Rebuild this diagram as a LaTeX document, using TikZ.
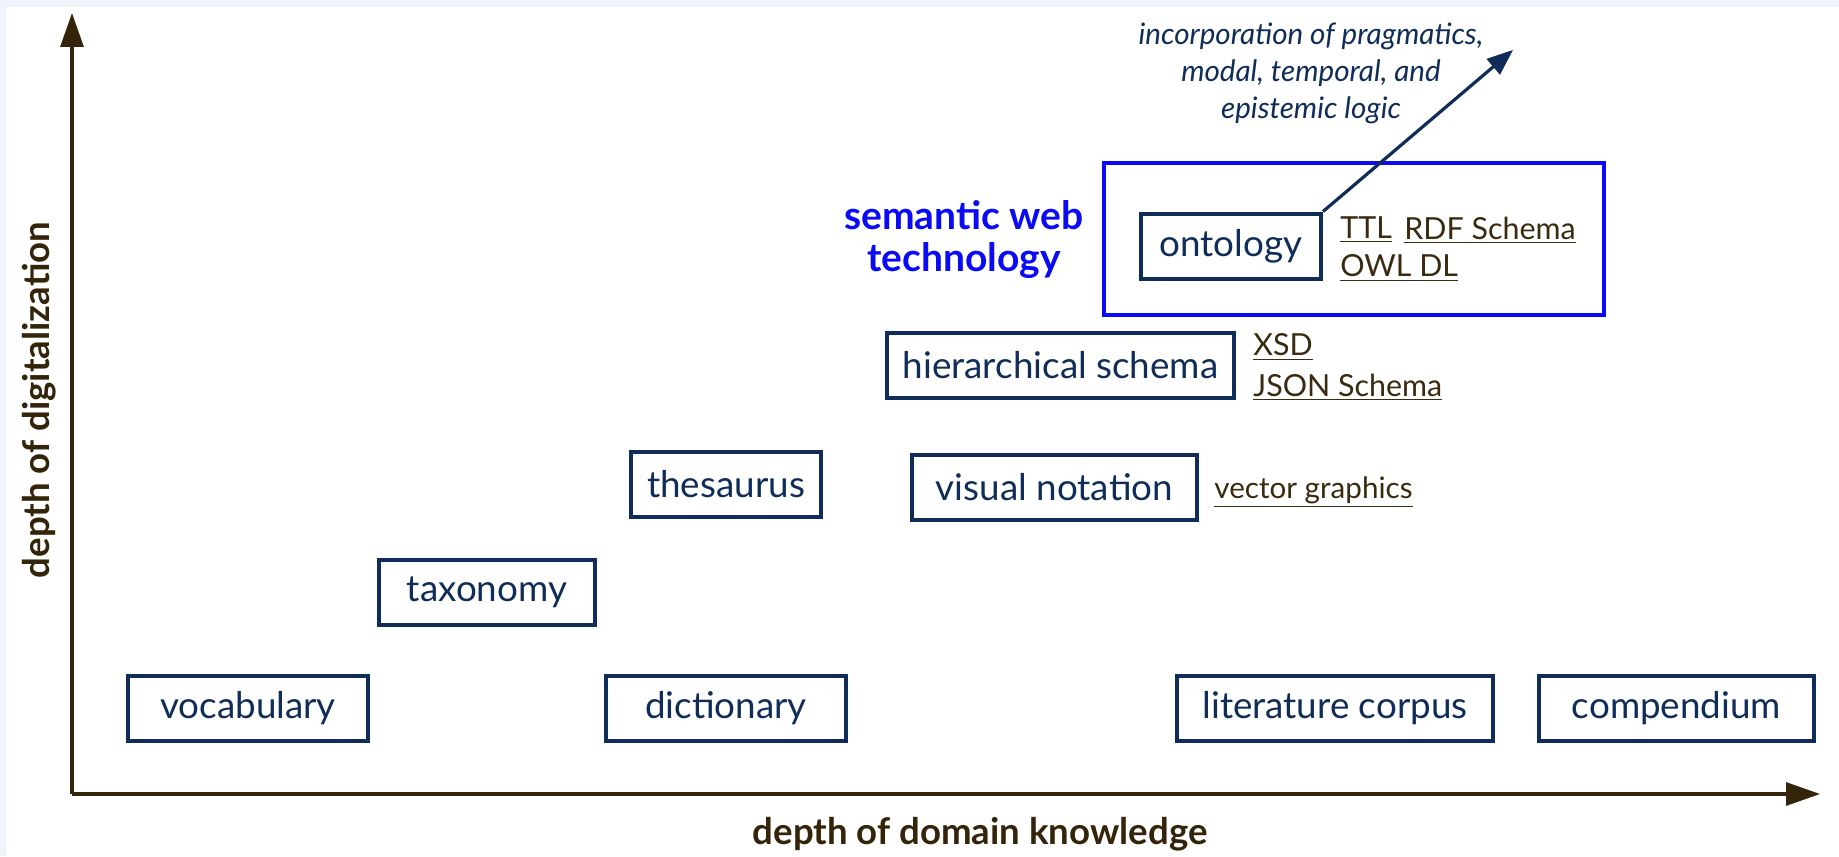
\documentclass[tikz,border=0pt]{standalone}
\usepackage{fontspec}
\setmainfont{Lato}
\usetikzlibrary{arrows.meta}
\definecolor{navy}{HTML}{0F2D58}
\definecolor{axisbrown}{HTML}{33240A}
\definecolor{linkbrown}{HTML}{3A2A10}
\definecolor{bgblue}{HTML}{EEF3FC}
\definecolor{swblue}{HTML}{0A0AF5}
\tikzset{
  box/.style={draw=navy, line width=2pt, text=navy, minimum height=32.5pt, inner sep=0pt, font=\fontsize{18.4}{22}\selectfont},
  link/.style={text=linkbrown, anchor=west, inner sep=0pt, font=\fontsize{15.2}{18}\selectfont},
  axis/.style={draw=axisbrown, line width=1.6pt, -{Triangle[length=17pt,width=11.5pt]}},
  axlabel/.style={text=axisbrown, font=\bfseries\fontsize{18.3}{22}\selectfont},
}
\newcommand{\ul}[1]{\underline{#1}}
\begin{document}
\begin{tikzpicture}[x=0.5pt,y=-0.5pt]
\useasboundingbox (0,0) rectangle (1839,856);
\fill[bgblue] (0,0) rectangle (1839,856);
\fill[white] (6,7) rectangle (1839,856);
% axes
\coordinate (O) at (72,794);
\coordinate (ytip) at (72,13);
\coordinate (xtip) at (1820,794);
\draw[axis] (O) -- (ytip);
\draw[axis] (O) -- (xtip);
\node[axlabel, rotate=90] (ylab) at (39,400) {depth of digitalization};
\node[axlabel] (xlab) at (980,834) {depth of domain knowledge};
% semantic web frame
\draw[swblue, line width=2.4pt] (1104,163) rectangle (1604,315);
\node[text=swblue, font=\bfseries\fontsize{19.5}{21}\selectfont, align=center] (sw) at (964,240) {semantic web\\technology};
% boxes
\node[box, minimum width=120pt] (voc) at (248,708.5) {vocabulary};
\node[box, minimum width=108pt] (tax) at (487,592) {taxonomy};
\node[box, minimum width=120pt] (dic) at (726,708.5) {dictionary};
\node[box, minimum width=95pt] (the) at (726,484) {thesaurus};
\node[box, minimum width=142.5pt] (vis) at (1054.5,487) {visual notation};
\node[box, minimum width=173.5pt] (hie) at (1060.5,365) {hierarchical schema};
\node[box, minimum width=90pt] (ont) at (1231,246) {ontology};
\node[box, minimum width=158pt] (lit) at (1335,708.5) {literature corpus};
\node[box, minimum width=137.5pt] (com) at (1676.5,708.5) {compendium};
% links
\node[link] (ttl) at (1340,230) {\ul{TTL}};
\node[link] (rdf) at (1404,230) {\ul{RDF Schema}};
\node[link] (owl) at (1340,268) {\ul{OWL DL}};
\node[link] (xsd) at (1253,347) {\ul{XSD}};
\node[link] (json) at (1253,387) {\ul{JSON Schema}};
\node[link, font=\fontsize{14.8}{17}\selectfont] (vec) at (1214,492) {\ul{vector graphics}};
% extension arrow
\coordinate (ext) at (1513,50);
\draw[navy, line width=1.6pt, -{Triangle[length=13pt,width=10pt]}] (ont.north east) -- (ext);
\node[text=navy, font=\itshape\fontsize{14.8}{18.5}\selectfont, align=center] (inc) at (1311,73) {incorporation of pragmatics,\\modal, temporal, and\\epistemic logic};
\end{tikzpicture}
\end{document}
